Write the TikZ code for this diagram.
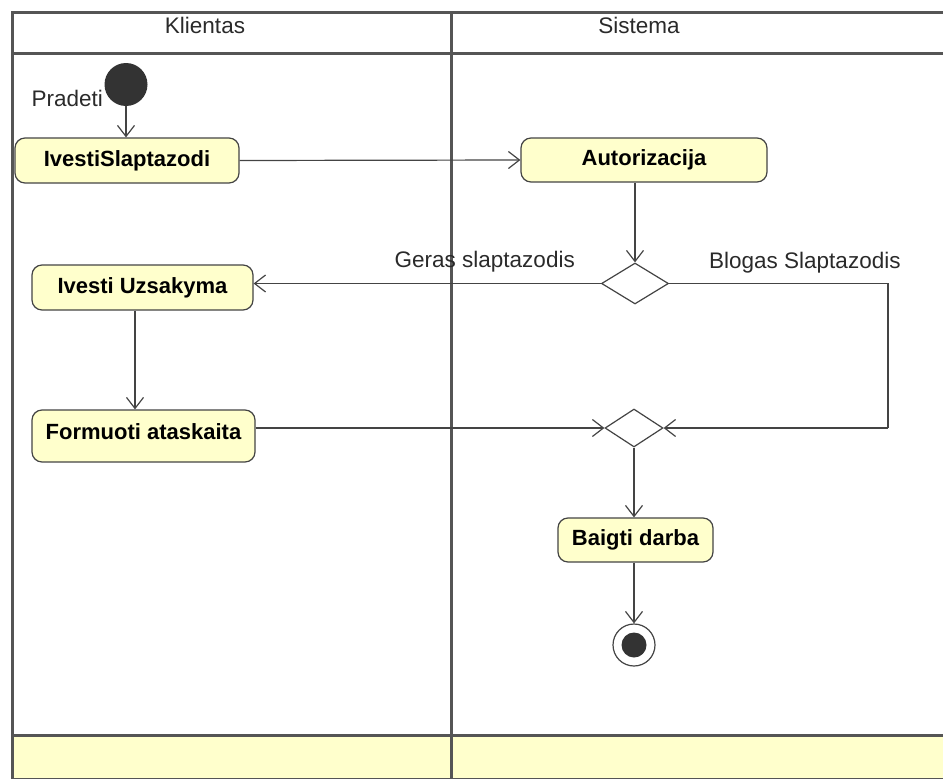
\documentclass[tikz,border=0pt]{standalone}
\usepackage{fontspec}
\setmainfont{Liberation Sans}
\usetikzlibrary{shapes.geometric,arrows.meta}
\definecolor{actfill}{HTML}{FFFFCC}
\definecolor{edge}{HTML}{444444}
\definecolor{framec}{HTML}{555555}
\definecolor{dot}{HTML}{333333}
\definecolor{labelc}{HTML}{2A2A2A}

\begin{document}
\begin{tikzpicture}[x=1pt,y=-1pt,
  lane/.style={draw=framec,line width=3pt},
  action/.style={draw=edge,fill=actfill,rounded corners=10pt,line width=1.2pt,
    font=\fontsize{22}{25}\selectfont\bfseries,text=black,inner sep=0pt},
  flow/.style={draw=edge,line width=1.2pt,
    -{Straight Barb[length=11pt,width=17pt,line width=1.2pt]}},
  plain/.style={draw=edge,line width=1.2pt},
  branch/.style={diamond,draw=edge,fill=white,line width=1.2pt,inner sep=0pt},
  lbl/.style={font=\fontsize{22.5}{26}\selectfont,text=labelc,inner sep=0pt}
]
\useasboundingbox (0,0) rectangle (943,779);

% swimlane frame
\fill[actfill] (12,735) rectangle (943,779);
\draw[lane] (943,12) -- (12,12) -- (12,779);
\draw[lane] (12,53) -- (943,53);
\draw[lane] (451,12) -- (451,779);
\draw[lane] (12,735) -- (943,735);
\draw[framec,line width=1pt] (12,778) -- (943,778);

\node[lbl,anchor=base] (klientas) at (205,33) {Klientas};
\node[lbl,anchor=base] (sistema) at (639,33) {Sistema};

% start and end
\node[circle,fill=dot,minimum size=43pt,inner sep=0pt] (start) at (126,84.5) {};
\node[lbl,anchor=base east] (pradeti) at (103,106) {Pradeti};
\node[circle,draw=edge,line width=1.2pt,fill=white,minimum size=42pt,inner sep=0pt] (end) at (634,645) {};
\node[circle,fill=dot,minimum size=25pt,inner sep=0pt] (enddot) at (end) {};

% actions
\node[action,minimum width=224pt,minimum height=45pt] (slapt) at (127,160.5) {IvestiSlaptazodi};
\node[action,minimum width=246pt,minimum height=44pt] (auth) at (644,160) {Autorizacija};
\node[action,minimum width=221pt,minimum height=45pt] (uzs) at (142.5,287.5) {Ivesti Uzsakyma};
\node[action,minimum width=223pt,minimum height=52pt,text depth=9pt] (form) at (143.5,436) {Formuoti ataskaita};
\node[action,minimum width=155pt,minimum height=44pt] (baigti) at (635.5,540) {Baigti darba};

% decision and merge
\node[branch,minimum width=67pt,minimum height=41pt] (dec) at (635,283.5) {};
\node[branch,minimum width=58pt,minimum height=38pt] (merge) at (634,428) {};

\node[lbl,anchor=base east] (geras) at (575,267) {Geras slaptazodis};
\node[lbl,anchor=base west] (blogas) at (709,268) {Blogas Slaptazodis};

\coordinate (loop) at (888,428);

% flows
\draw[flow] (start.south) -- (start.south |- slapt.north);
\draw[flow] (slapt.east) -- (auth.west);
\draw[flow] (dec.north |- auth.south) -- (dec.north);
\draw[flow] (dec.west) -- (dec.west -| uzs.east);
\draw[plain] (dec.east) -| (loop);
\draw[flow] (loop) -- (merge.east);
\draw[flow] ([xshift=-7.5pt]uzs.south) -- ([xshift=-7.5pt]uzs.south |- form.north);
\draw[flow] (form.east |- merge.west) -- (merge.west);
\draw[flow] (merge.south) -- (merge.south |- baigti.north);
\draw[flow] (baigti.south -| end.north) -- (end.north);
\end{tikzpicture}
\end{document}
